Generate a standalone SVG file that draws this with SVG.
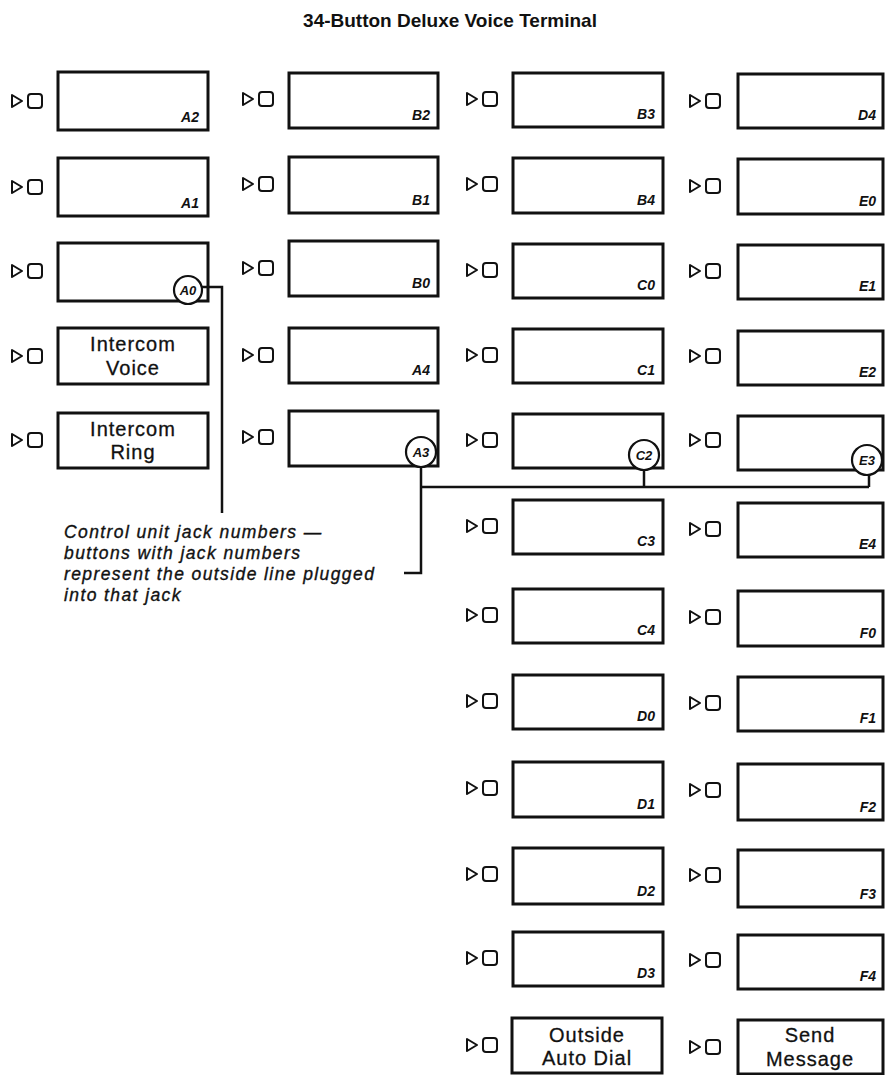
<svg xmlns="http://www.w3.org/2000/svg" xmlns:xlink="http://www.w3.org/1999/xlink" width="885" height="1075" viewBox="0 0 885 1075">
<defs>
<style>
.box{fill:#fff;stroke:#111;stroke-width:3}
.ind{fill:#fff;stroke:#111;stroke-width:2;stroke-linejoin:round}
.jack{fill:#fff;stroke:#111;stroke-width:2.2}
.lbl{font-family:"Liberation Sans",Arial,sans-serif;font-weight:bold;font-style:italic;font-size:14px;fill:#111;text-anchor:end}
.jl{font-family:"Liberation Sans",Arial,sans-serif;font-weight:bold;font-style:italic;font-size:13px;fill:#111;text-anchor:middle}
.name{font-family:"Liberation Sans",Arial,sans-serif;font-size:20px;letter-spacing:1px;fill:#111;stroke:#111;stroke-width:0.3;text-anchor:middle}
.title{font-family:"Liberation Sans",Arial,sans-serif;font-weight:bold;font-size:19px;fill:#111;text-anchor:middle}
.note{font-family:"Liberation Sans",Arial,sans-serif;font-style:italic;font-size:17.5px;letter-spacing:1.4px;fill:#111;stroke:#111;stroke-width:0.35}
.conn{fill:none;stroke:#111;stroke-width:2.5}
</style>
<g id="indicator"><polygon class="ind" points="0,-6 10,0 0,6"/><rect class="ind" x="16" y="-7" width="14" height="14" rx="3"/></g>
</defs>
<rect width="885" height="1075" fill="#fff"/>
<text class="title" x="450" y="27">34-Button Deluxe Voice Terminal</text>

<!-- Column 1 -->
<g id="btn-A2"><use xlink:href="#indicator" x="12" y="101"/><rect class="box" x="58" y="72" width="150" height="58"/><text class="lbl" x="199" y="122">A2</text></g>
<g id="btn-A1"><use xlink:href="#indicator" x="12" y="187"/><rect class="box" x="58" y="158" width="150" height="58"/><text class="lbl" x="199" y="208">A1</text></g>
<g id="btn-A0"><use xlink:href="#indicator" x="12" y="271"/><rect class="box" x="58" y="243" width="150" height="58"/><circle class="jack" cx="188" cy="290" r="14"/><text class="jl" x="188" y="295">A0</text></g>
<g id="btn-intercom-voice"><use xlink:href="#indicator" x="12" y="356"/><rect class="box" x="58" y="328" width="150" height="56"/><text class="name" x="133" y="351">Intercom</text><text class="name" x="133" y="375">Voice</text></g>
<g id="btn-intercom-ring"><use xlink:href="#indicator" x="12" y="440"/><rect class="box" x="58" y="413" width="150" height="55"/><text class="name" x="133" y="436">Intercom</text><text class="name" x="133" y="459">Ring</text></g>

<!-- Column 2 -->
<g id="btn-B2"><use xlink:href="#indicator" x="243" y="99"/><rect class="box" x="289" y="73" width="149" height="55"/><text class="lbl" x="430" y="120">B2</text></g>
<g id="btn-B1"><use xlink:href="#indicator" x="243" y="184"/><rect class="box" x="289" y="157" width="149" height="56"/><text class="lbl" x="430" y="205">B1</text></g>
<g id="btn-B0"><use xlink:href="#indicator" x="243" y="268"/><rect class="box" x="289" y="241" width="149" height="55"/><text class="lbl" x="430" y="288">B0</text></g>
<g id="btn-A4"><use xlink:href="#indicator" x="243" y="355"/><rect class="box" x="289" y="328" width="149" height="55"/><text class="lbl" x="430" y="375">A4</text></g>
<g id="btn-A3"><use xlink:href="#indicator" x="243" y="437"/><rect class="box" x="289" y="411" width="149" height="55"/><circle class="jack" cx="421" cy="452" r="15"/><text class="jl" x="421" y="457">A3</text></g>

<!-- Column 3 -->
<g id="btn-B3"><use xlink:href="#indicator" x="467" y="99"/><rect class="box" x="513" y="73" width="150" height="54"/><text class="lbl" x="655" y="119">B3</text></g>
<g id="btn-B4"><use xlink:href="#indicator" x="467" y="184"/><rect class="box" x="513" y="158" width="150" height="55"/><text class="lbl" x="655" y="205">B4</text></g>
<g id="btn-C0"><use xlink:href="#indicator" x="467" y="270"/><rect class="box" x="513" y="244" width="150" height="54"/><text class="lbl" x="655" y="290">C0</text></g>
<g id="btn-C1"><use xlink:href="#indicator" x="467" y="355"/><rect class="box" x="513" y="329" width="150" height="54"/><text class="lbl" x="655" y="375">C1</text></g>
<g id="btn-C2"><use xlink:href="#indicator" x="467" y="440"/><rect class="box" x="513" y="414" width="150" height="54"/><circle class="jack" cx="644" cy="455" r="15"/><text class="jl" x="644" y="460">C2</text></g>
<g id="btn-C3"><use xlink:href="#indicator" x="467" y="526"/><rect class="box" x="513" y="500" width="150" height="54"/><text class="lbl" x="655" y="546">C3</text></g>
<g id="btn-C4"><use xlink:href="#indicator" x="467" y="615"/><rect class="box" x="513" y="589" width="150" height="54"/><text class="lbl" x="655" y="635">C4</text></g>
<g id="btn-D0"><use xlink:href="#indicator" x="467" y="701"/><rect class="box" x="513" y="675" width="150" height="54"/><text class="lbl" x="655" y="721">D0</text></g>
<g id="btn-D1"><use xlink:href="#indicator" x="467" y="788"/><rect class="box" x="513" y="762" width="150" height="55"/><text class="lbl" x="655" y="809">D1</text></g>
<g id="btn-D2"><use xlink:href="#indicator" x="467" y="874"/><rect class="box" x="513" y="848" width="150" height="56"/><text class="lbl" x="655" y="896">D2</text></g>
<g id="btn-D3"><use xlink:href="#indicator" x="467" y="958"/><rect class="box" x="513" y="932" width="150" height="54"/><text class="lbl" x="655" y="978">D3</text></g>
<g id="btn-outside-auto-dial"><use xlink:href="#indicator" x="467" y="1045"/><rect class="box" x="512" y="1018" width="150" height="55"/><text class="name" x="587" y="1042">Outside</text><text class="name" x="587" y="1065">Auto Dial</text></g>

<!-- Column 4 -->
<g id="btn-D4"><use xlink:href="#indicator" x="690" y="101"/><rect class="box" x="738" y="74" width="145" height="54"/><text class="lbl" x="876" y="120">D4</text></g>
<g id="btn-E0"><use xlink:href="#indicator" x="690" y="186"/><rect class="box" x="738" y="159" width="145" height="55"/><text class="lbl" x="876" y="206">E0</text></g>
<g id="btn-E1"><use xlink:href="#indicator" x="690" y="271"/><rect class="box" x="738" y="245" width="145" height="54"/><text class="lbl" x="876" y="291">E1</text></g>
<g id="btn-E2"><use xlink:href="#indicator" x="690" y="356"/><rect class="box" x="738" y="331" width="145" height="54"/><text class="lbl" x="876" y="377">E2</text></g>
<g id="btn-E3"><use xlink:href="#indicator" x="690" y="440"/><rect class="box" x="738" y="416" width="145" height="54"/><circle class="jack" cx="867" cy="460" r="15"/><text class="jl" x="867" y="465">E3</text></g>
<g id="btn-E4"><use xlink:href="#indicator" x="690" y="529"/><rect class="box" x="738" y="503" width="145" height="54"/><text class="lbl" x="876" y="549">E4</text></g>
<g id="btn-F0"><use xlink:href="#indicator" x="690" y="617"/><rect class="box" x="738" y="591" width="145" height="55"/><text class="lbl" x="876" y="638">F0</text></g>
<g id="btn-F1"><use xlink:href="#indicator" x="690" y="703"/><rect class="box" x="738" y="677" width="145" height="54"/><text class="lbl" x="876" y="723">F1</text></g>
<g id="btn-F2"><use xlink:href="#indicator" x="690" y="790"/><rect class="box" x="738" y="764" width="145" height="56"/><text class="lbl" x="876" y="812">F2</text></g>
<g id="btn-F3"><use xlink:href="#indicator" x="690" y="875"/><rect class="box" x="738" y="850" width="145" height="57"/><text class="lbl" x="876" y="899">F3</text></g>
<g id="btn-F4"><use xlink:href="#indicator" x="690" y="960"/><rect class="box" x="738" y="935" width="145" height="54"/><text class="lbl" x="876" y="981">F4</text></g>
<g id="btn-send-message"><use xlink:href="#indicator" x="690" y="1047"/><rect class="box" x="738" y="1020" width="145" height="54"/><text class="name" x="810" y="1042">Send</text><text class="name" x="810" y="1066">Message</text></g>

<!-- Connectors -->
<g id="connectors">
<path class="conn" d="M202,287 H222 V513"/>
<path class="conn" d="M421,467 V573 H404"/>
<path class="conn" d="M421,487 H869"/>
<path class="conn" d="M644,470 V487"/>
<path class="conn" d="M869,475 V487"/>
</g>

<g id="note">
<text class="note" x="64" y="538">Control unit jack numbers —</text>
<text class="note" x="64" y="559">buttons with jack numbers</text>
<text class="note" x="64" y="580">represent the outside line plugged</text>
<text class="note" x="64" y="601">into that jack</text>
</g>
</svg>
